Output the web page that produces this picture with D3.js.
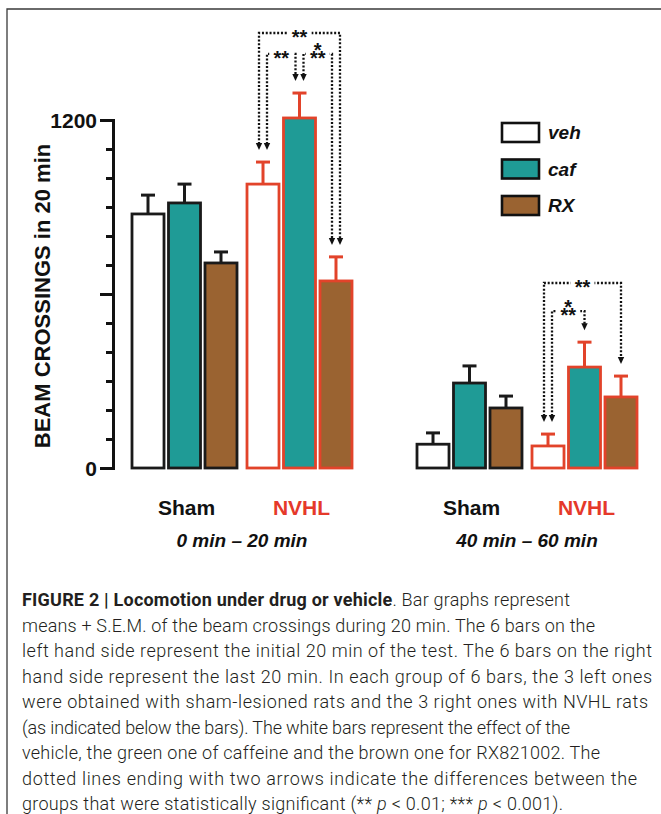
<!DOCTYPE html>
<html lang="en">
<head>
<meta charset="UTF-8" />
<title>Locomotion under drug or vehicle</title>
<script src="https://cdn.jsdelivr.net/npm/d3@7/dist/d3.min.js"></script>
<style>
  html, body { margin: 0; padding: 0; background: #fff; }
  svg { display: block; font-family: "Liberation Sans", Arial, sans-serif; }
</style>
</head>
<body>
<div id="chart"></div>
<script>
// ---- data ----
const periods = ["0 min \u2013 20 min", "40 min \u2013 60 min"];
const lesions = ["Sham", "NVHL"];
const drugs = ["veh", "caf", "RX"];

// beam crossings (mean) and S.E.M., in drug order veh / caf / RX
const meanSham0 = [876, 914, 707];
const meanNvhl0 = [979, 1207, 645];
const meanSham40 = [82, 293, 207];
const meanNvhl40 = [76, 348, 245];
const semSham0 = [65, 65, 38];
const semNvhl0 = [76, 86, 83];
const semSham40 = [39, 59, 41];
const semNvhl40 = [41, 86, 72];

const yTicks = d3.range(0, 1201, 100);
const yTickLabels = [0, 1200];

// significant differences: period, lesion, from, to, stars, bracket level
const comparisons = [
  [0, "NVHL", "veh", "RX", "**", 1500],
  [0, "NVHL", "veh", "caf", "**", 1428],
  [0, "NVHL", "caf", "RX", "***", 1428],
  [1, "NVHL", "veh", "RX", "**", 638],
  [1, "NVHL", "veh", "caf", "***", 541]
];

const means = [[meanSham0, meanNvhl0], [meanSham40, meanNvhl40]];
const sems = [[semSham0, semNvhl0], [semSham40, semNvhl40]];

const bars = [];
periods.forEach((p, pi) =>
  lesions.forEach((l, li) =>
    drugs.forEach((d, di) =>
      bars.push({ pi, lesion: l, drug: d, mean: means[pi][li][di], sem: sems[pi][li][di] })
    )
  )
);

// ---- setup ----
const w = 661, h = 814;
const fillColor = { veh: "#ffffff", caf: "#1f9b96", RX: "#9a6331" };
const strokeColor = { Sham: "#1a1a1a", NVHL: "#e2432a" };

const svg = d3.select("#chart").append("svg").attr("width", w).attr("height", h);

const y = d3.scaleLinear().domain([0, 1200]).range([468, 120]);
const xPeriod = d3.scaleBand().domain(d3.range(periods.length)).range([99.5, 669.5]);
const xLesion = d3.scaleBand().domain(lesions).range([27.5, 257.5]);
const xDrug = d3.scaleBand().domain(drugs).range([0, 115]).paddingInner(0.123).paddingOuter(0.137);

const xLeft = (pi, l, d) => xPeriod(pi) + xLesion(l) + xDrug(d);
const xMid = (pi, l, d) => xLeft(pi, l, d) + xDrug.bandwidth() / 2;

// frame
svg.append("path")
  .attr("d", `M7,${h}V9H${w}`)
  .attr("fill", "none")
  .attr("stroke", "#3a3a3a")
  .attr("stroke-width", 1.3);

// y axis
const yAxis = svg.append("g")
  .attr("transform", "translate(113,0)")
  .call(d3.axisLeft(y).tickValues(yTicks).tickSizeOuter(0)
    .tickFormat(d => (yTickLabels.includes(d) ? d : "")));

yAxis.select(".domain").attr("stroke", "#111").attr("stroke-width", 3).attr("stroke-linecap", "square");
yAxis.selectAll(".tick line")
  .attr("stroke", "#111")
  .attr("stroke-width", 3)
  .attr("x2", d => (d % 600 === 0 ? -13 : -7));
yAxis.selectAll(".tick text")
  .attr("x", -16)
  .attr("dy", "0.36em")
  .attr("fill", "#111")
  .style("font-size", "21px")
  .style("font-weight", "bold")
  .style("font-family", "'Liberation Sans', Arial, sans-serif");

svg.append("text")
  .attr("transform", `translate(50,${(y(0) + y(1200)) / 2 + 2}) rotate(-90)`)
  .attr("text-anchor", "middle")
  .style("font-size", "22px")
  .style("font-weight", "bold")
  .attr("fill", "#111")
  .text("BEAM CROSSINGS in 20 min");

// bars
svg.selectAll("rect.bar")
  .data(bars)
  .enter()
  .append("rect")
  .attr("class", "bar")
  .attr("x", d => xLeft(d.pi, d.lesion, d.drug))
  .attr("y", d => y(d.mean))
  .attr("width", xDrug.bandwidth())
  .attr("height", d => y(0) - y(d.mean))
  .attr("fill", d => fillColor[d.drug])
  .attr("stroke", d => strokeColor[d.lesion])
  .attr("stroke-width", 2.8);

// error bars (mean + S.E.M.)
const err = svg.selectAll("g.err").data(bars).enter().append("g").attr("class", "err")
  .attr("stroke", d => strokeColor[d.lesion])
  .attr("stroke-width", 3);
err.append("line")
  .attr("x1", d => xMid(d.pi, d.lesion, d.drug))
  .attr("x2", d => xMid(d.pi, d.lesion, d.drug))
  .attr("y1", d => y(d.mean))
  .attr("y2", d => y(d.mean + d.sem));
err.append("line")
  .attr("x1", d => xMid(d.pi, d.lesion, d.drug) - 7)
  .attr("x2", d => xMid(d.pi, d.lesion, d.drug) + 7)
  .attr("y1", d => y(d.mean + d.sem))
  .attr("y2", d => y(d.mean + d.sem));

// group labels
periods.forEach((p, pi) => {
  lesions.forEach(l => {
    svg.append("text")
      .attr("x", xPeriod(pi) + xLesion(l) + xLesion.bandwidth() / 2 + 2)
      .attr("y", 515)
      .attr("text-anchor", "middle")
      .attr("fill", l === "NVHL" ? "#e5392a" : "#111")
      .style("font-size", "21px")
      .style("font-weight", "bold")
      .text(l);
  });
  svg.append("text")
    .attr("x", xPeriod(pi) + xPeriod.bandwidth() / 2)
    .attr("y", 547)
    .attr("text-anchor", "middle")
    .attr("fill", "#111")
    .style("font-size", "19px")
    .style("font-weight", "bold")
    .style("font-style", "italic")
    .text(p);
});

// legend
const legendY = d3.scalePoint().domain(drugs).range([133, 206]);
const legend = svg.selectAll("g.legend").data(drugs).enter().append("g").attr("class", "legend")
  .attr("transform", d => `translate(502,${legendY(d)})`);
legend.append("rect")
  .attr("x", 0).attr("y", -10).attr("width", 37).attr("height", 19)
  .attr("fill", d => fillColor[d])
  .attr("stroke", "#111")
  .attr("stroke-width", 2.6);
legend.append("text")
  .attr("x", 46).attr("y", 6)
  .attr("fill", "#111")
  .style("font-size", "19px")
  .style("font-weight", "bold")
  .style("font-style", "italic")
  .text(d => d);

// significance brackets
const gapPx = 12, arrowH = 7, arrowW = 3.2, sideOff = 4;
const barOf = (pi, l, d) => bars.find(b => b.pi === pi && b.lesion === l && b.drug === d);
const span = c => Math.abs(drugs.indexOf(c[3]) - drugs.indexOf(c[2]));

function endOffset(c, drug, partner) {
  const others = comparisons.filter(o => o !== c && o[0] === c[0] && o[1] === c[1] && (o[2] === drug || o[3] === drug));
  if (!others.length) return 0;
  const toward = drugs.indexOf(partner) > drugs.indexOf(drug) ? 1 : -1;
  return span(c) <= span(others[0]) ? toward * sideOff : -toward * sideOff;
}

const sig = svg.append("g");
comparisons.forEach(c => {
  const [pi, l, a, b, stars, level] = c;
  const xa = xMid(pi, l, a) + endOffset(c, a, b);
  const xb = xMid(pi, l, b) + endOffset(c, b, a);
  const ba = barOf(pi, l, a), bb = barOf(pi, l, b);
  const tipA = y(ba.mean + ba.sem) - gapPx;
  const tipB = y(bb.mean + bb.sem) - gapPx;
  const top = y(level);

  sig.append("path")
    .attr("d", `M${xa},${tipA - arrowH + 1}V${top}H${xb}V${tipB - arrowH + 1}`)
    .attr("fill", "none")
    .attr("stroke", "#111")
    .attr("stroke-width", 2.3)
    .attr("stroke-dasharray", "2 1.8");

  [[xa, tipA], [xb, tipB]].forEach(([ax, ay]) => {
    sig.append("path")
      .attr("d", `M${ax - arrowW},${ay - arrowH}L${ax + arrowW},${ay - arrowH}L${ax},${ay}Z`)
      .attr("fill", "#111");
  });

  const cx = (xa + xb) / 2;
  sig.append("rect")
    .attr("x", cx - 12).attr("y", top - 4).attr("width", 24).attr("height", 8)
    .attr("fill", "#fff");
  // "***" is set as one star stacked over two
  const t = sig.append("text")
    .attr("text-anchor", "middle")
    .attr("fill", "#111")
    .style("font-size", "20px")
    .style("font-weight", "bold");
  if (stars.length === 3) {
    t.append("tspan").attr("x", cx).attr("y", top + 3).text("*");
    t.append("tspan").attr("x", cx).attr("y", top + 11).text("**");
  } else {
    t.append("tspan").attr("x", cx).attr("y", top + 11).text(stars);
  }
});

// caption
const captionLines = [
  [["FIGURE 2 | Locomotion under drug or vehicle", "b"], [". Bar graphs represent", ""]],
  [["means + S.E.M. of the beam crossings during 20 min. The 6 bars on the", ""]],
  [["left hand side represent the initial 20 min of the test. The 6 bars on the right", ""]],
  [["hand side represent the last 20 min. In each group of 6 bars, the 3 left ones", ""]],
  [["were obtained with sham-lesioned rats and the 3 right ones with NVHL rats", ""]],
  [["(as indicated below the bars). The white bars represent the effect of the", ""]],
  [["vehicle, the green one of caffeine and the brown one for RX821002. The", ""]],
  [["dotted lines ending with two arrows indicate the differences between the", ""]],
  [["groups that were statistically significant (** ", ""], ["p", "i"], [" < 0.01; *** ", ""], ["p", "i"], [" < 0.001).", ""]]
];
const captionEnds = [570, 595, 652, 652, 648, 570, 600, 637, 563];

const caption = svg.append("g")
  .attr("fill", "#231f20")
  .style("font-family", "Roboto, 'Liberation Sans', sans-serif")
  .style("font-size", "18px");
captionLines.forEach((segs, i) => {
  const t = caption.append("text")
    .attr("x", 22)
    .attr("y", 606 + 25.5 * i)
    .attr("textLength", captionEnds[i] - 22)
    .attr("lengthAdjust", "spacing");
  segs.forEach(([txt, st]) => {
    t.append("tspan")
      .style("font-weight", st === "b" ? "bold" : "300")
      .style("font-style", st === "i" ? "italic" : "normal")
      .text(txt);
  });
});
</script>
</body>
</html>
